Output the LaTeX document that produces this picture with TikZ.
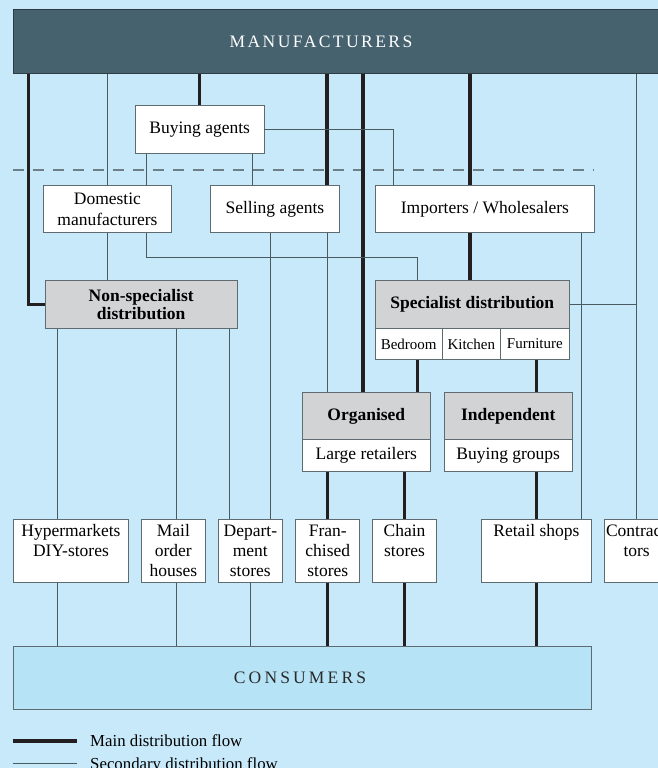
\documentclass[tikz,border=0pt]{standalone}
\usepackage{fontspec}
\setmainfont{Liberation Serif}
\newfontfamily\mspaced[LetterSpace=14]{Liberation Serif}
\newfontfamily\cspaced[LetterSpace=18]{Liberation Serif}
\usetikzlibrary{calc}
\definecolor{bgblue}{HTML}{C7E9F9}
\definecolor{mdark}{HTML}{46626F}
\definecolor{mline}{HTML}{2E3D44}
\definecolor{consblue}{HTML}{B7E3F7}
\definecolor{graybox}{HTML}{D2D3D5}
\definecolor{boxline}{HTML}{5E6C72}
\definecolor{thinline}{HTML}{4A5A61}
\definecolor{dashcol}{HTML}{6D8088}
\definecolor{mainline}{HTML}{231F20}
\definecolor{constext}{HTML}{2A2A2A}
\newcommand\fmain{\fontsize{17.5}{21}\selectfont}
\newcommand\fbot{\fontsize{17.5}{20}\selectfont}
\newcommand\fbold{\fontsize{17.5}{18}\selectfont\bfseries}
\newcommand\fsmall{\fontsize{15}{18}\selectfont}
\begin{document}
\begin{tikzpicture}[x=1pt,y=-1pt,
  wbox/.style={draw=boxline, line width=0.9pt, fill=white, inner sep=0pt, anchor=north west, align=center, font=\fmain},
  gbox/.style={wbox, fill=graybox, font=\fbold},
  sbox/.style={wbox, font=\fsmall},
  btext/.style={anchor=north, inner xsep=0pt, inner ysep=5.5pt, align=center, font=\fbot},
  mainflow/.style={draw=mainline, line width=3.2pt},
  secflow/.style={draw=thinline, line width=1pt},
  dashline/.style={draw=dashcol, line width=1.4pt, dash pattern=on 11pt off 9pt}]
\useasboundingbox (0,0) rectangle (658,768);
\clip (0,0) rectangle (658,768);
\fill[bgblue] (0,0) rectangle (658,768);

% dashed separator
\coordinate (dl1) at (12.6,170);
\coordinate (dl2) at (594,170);
\draw[dashline] (dl1) -- (dl2);

% x positions of connectors
\coordinate (xA) at (28.5,0);
\coordinate (xB) at (146.5,0);
\coordinate (xC) at (252,0);
\coordinate (xD) at (327,0);
\coordinate (xE) at (363,0);
\coordinate (xF) at (393.6,0);
\coordinate (xG) at (470,0);
\coordinate (xH) at (417.5,0);
\coordinate (xI) at (536.3,0);
\coordinate (xJ) at (581.6,0);
\coordinate (xL) at (270.7,0);
\coordinate (xM) at (229,0);
\coordinate (xN) at (57,0);
\coordinate (xO) at (176.2,0);
\coordinate (yd) at (0,257.7);

% nodes
\node[wbox, fill=mdark, draw=mline, minimum width=670pt, minimum height=64pt] (manuf) at (12.6,9.3) {};
\node[text=white, font=\fmain, inner sep=0pt] (mtext) at (321,41.3) {\mspaced MANUFACTURERS};

\node[wbox, minimum width=128.5pt, minimum height=47.7pt] (BA) at (135,105.3) {Buying agents};
\node[wbox, minimum width=128.4pt, minimum height=47.6pt] (dom) at (42.8,184.7) {Domestic\\manufacturers};
\node[wbox, minimum width=129pt, minimum height=47.6pt] (sell) at (210,184.7) {Selling agents};
\node[wbox, minimum width=219pt, minimum height=47.6pt] (imp) at (375,184.7) {Importers / Wholesalers};

\node[gbox, minimum width=192.5pt, minimum height=47.7pt] (nonspec) at (44.5,280) {Non-specialist\\distribution};
\node[gbox, minimum width=193.6pt, minimum height=47.7pt] (spec) at (375,280) {Specialist distribution};
\node[sbox, minimum width=66.5pt, minimum height=31.6pt] (bed) at (375,327.7) {Bedroom};
\node[sbox, minimum width=58.7pt, minimum height=31.6pt] (kit) at (441.5,327.7) {Kitchen};
\node[sbox, minimum width=68.4pt, minimum height=31.6pt] (fur) at (500.2,327.7) {Furniture};

\node[gbox, minimum width=128.3pt, minimum height=47.6pt] (org) at (301.7,391.7) {Organised};
\node[wbox, minimum width=128.3pt, minimum height=31.7pt] (large) at (301.7,439.3) {Large retailers};
\node[gbox, minimum width=128.4pt, minimum height=47.6pt] (ind) at (443.6,391.7) {Independent};
\node[wbox, minimum width=128.4pt, minimum height=31.7pt] (bgr) at (443.6,439.3) {Buying groups};

% bottom row
\node[wbox, minimum width=115.8pt, minimum height=63.3pt] (hyper) at (12.6,519) {};
\node[wbox, minimum width=63.8pt, minimum height=63.3pt] (mail) at (141,519) {};
\node[wbox, minimum width=63.4pt, minimum height=63.3pt] (dept) at (218.2,519) {};
\node[wbox, minimum width=63.8pt, minimum height=63.3pt] (fran) at (295.4,519) {};
\node[wbox, minimum width=63.8pt, minimum height=63.3pt] (chain) at (372.2,519) {};
\node[wbox, minimum width=110pt, minimum height=63.3pt] (retail) at (481,519) {};
\node[wbox, minimum width=63.8pt, minimum height=63.3pt] (contr) at (604.3,519) {};
\node[btext] (hyperT) at (hyper.north) {Hypermarkets\\DIY-stores};
\node[btext] (mailT) at (mail.north) {Mail\\order\\houses};
\node[btext] (deptT) at (dept.north) {Depart-\\ment\\stores};
\node[btext] (franT) at (fran.north) {Fran-\\chised\\stores};
\node[btext] (chainT) at (chain.north) {Chain\\stores};
\node[btext] (retailT) at (retail.north) {Retail shops};
\node[btext] (contrT) at (contr.north) {Contrac-\\tors};

\node[wbox, fill=consblue, minimum width=578.4pt, minimum height=63.3pt] (cons) at (12.6,646) {};
\node[text=constext, font=\fmain, inner sep=0pt] (ctext) at (300,677.7) {\cspaced CONSUMERS};

% main flows
\draw[mainflow] (xA |- manuf.south) |- (nonspec.west);
\draw[mainflow] (BA.north |- manuf.south) -- (BA.north);
\draw[mainflow] (xD |- manuf.south) -- (xD |- sell.north);
\draw[mainflow] (xE |- manuf.south) -- (xE |- org.north);
\draw[mainflow] (xG |- manuf.south) -- (xG |- imp.north);
\draw[mainflow] (xG |- imp.south) -- (xG |- spec.north);
\draw[mainflow] (xH |- bed.south) -- (xH |- org.north);
\draw[mainflow] (xI |- fur.south) -- (xI |- ind.north);
\draw[mainflow] (fran.north |- large.south) -- (fran.north);
\draw[mainflow] (chain.north |- large.south) -- (chain.north);
\draw[mainflow] (retail.north |- bgr.south) -- (retail.north);
\draw[mainflow] (fran.south) -- (fran.south |- cons.north);
\draw[mainflow] (chain.south) -- (chain.south |- cons.north);
\draw[mainflow] (retail.south) -- (retail.south |- cons.north);

% secondary flows
\draw[secflow] (dom.north |- manuf.south) -- (dom.north);
\draw[secflow] (dom.south) -- (dom.south |- nonspec.north);
\draw[secflow] (xB |- BA.south) -- (xB |- dom.north);
\draw[secflow] (xC |- BA.south) -- (xC |- sell.north);
\draw[secflow] (BA.east) -| (xF |- imp.north);
\draw[secflow] (xB |- dom.south) |- (yd -| xH) -- (xH |- spec.north);
\draw[secflow] (xL |- sell.south) -- (xL |- dept.north);
\draw[secflow] (xD |- sell.south) -- (xD |- org.north);
\draw[secflow] (xJ |- imp.south) -- (xJ |- retail.north);
\draw[secflow] (contr.north |- manuf.south) -- (contr.north);
\draw[secflow] (spec.east) -- (spec.east -| contr.north);
\draw[secflow] (xN |- nonspec.south) -- (xN |- hyper.north);
\draw[secflow] (xO |- nonspec.south) -- (xO |- mail.north);
\draw[secflow] (xM |- nonspec.south) -- (xM |- dept.north);
\draw[secflow] (xN |- hyper.south) -- (xN |- cons.north);
\draw[secflow] (xO |- mail.south) -- (xO |- cons.north);
\draw[secflow] (dept.south) -- (dept.south |- cons.north);

% legend
\coordinate (l1a) at (12.6,741);
\coordinate (l1b) at (76.8,741);
\coordinate (l2a) at (12.6,763.3);
\coordinate (l2b) at (76.8,763.3);
\draw[mainflow] (l1a) -- (l1b);
\draw[secflow] (l2a) -- (l2b);
\node[anchor=base west, font=\fontsize{16.8}{20}\selectfont, inner sep=0pt] (l1t) at (90,746) {Main distribution flow};
\node[anchor=base west, font=\fontsize{16.8}{20}\selectfont, inner sep=0pt] (l2t) at (90,769.5) {Secondary distribution flow};
\end{tikzpicture}
\end{document}
